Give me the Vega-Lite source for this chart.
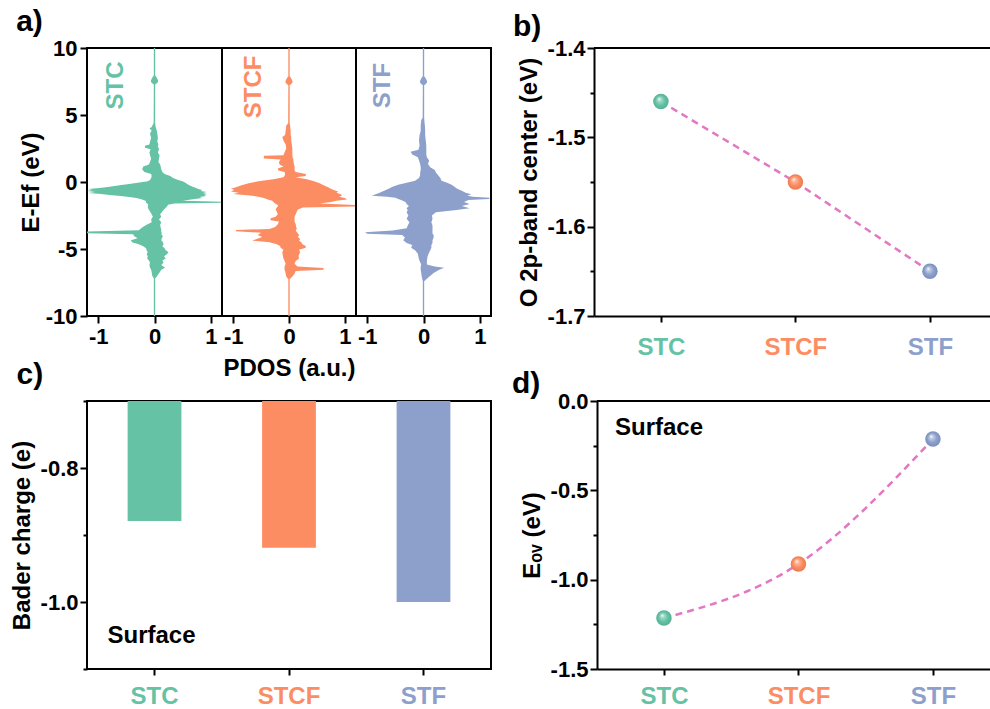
{
  "$schema": "https://vega.github.io/schema/vega-lite/v6.json",
  "background": "white",
  "padding": {"left": 9, "top": 5, "right": 0, "bottom": 0},
  "config": {
    "font": "Liberation Sans",
    "locale": {"number": {"decimal": ".", "thousands": ",", "grouping": [3], "currency": ["$", ""], "minus": "-"}},
    "view": {"stroke": "black", "strokeWidth": 2},
    "axis": {
      "grid": false, "domainColor": "black", "domainWidth": 2, "tickColor": "black", "tickWidth": 2, "tickSize": 7,
      "labelFont": "Liberation Sans", "labelFontWeight": "bold", "labelFontSize": 22, "labelColor": "black", "labelPadding": 3,
      "labelFlush": false, "labelOverlap": false,
      "titleFont": "Liberation Sans", "titleFontWeight": "bold", "titleFontSize": 24, "titleColor": "black"
    },
    "text": {"font": "Liberation Sans", "fontWeight": "bold"}
  },
  "datasets": {
    "pdos": [
      {"s":"STC","E":10,"l":-0.012,"r":0.012},{"s":"STC","E":7.95,"l":-0.012,"r":0.012},{"s":"STC","E":7.85,"l":-0.03,"r":0.03},{"s":"STC","E":7.7,"l":-0.05,"r":0.05},{"s":"STC","E":7.55,"l":-0.065,"r":0.065},{"s":"STC","E":7.45,"l":-0.06,"r":0.06},{"s":"STC","E":7.35,"l":-0.035,"r":0.035},{"s":"STC","E":7.28,"l":-0.012,"r":0.012},
      {"s":"STC","E":4.4,"l":-0.015,"r":0.012},{"s":"STC","E":4.1,"l":-0.05,"r":0.02},{"s":"STC","E":4.0,"l":-0.09,"r":0.03},{"s":"STC","E":3.85,"l":-0.05,"r":0.04},{"s":"STC","E":3.6,"l":-0.08,"r":0.05},{"s":"STC","E":3.3,"l":-0.06,"r":0.06},{"s":"STC","E":3.0,"l":-0.08,"r":0.05},{"s":"STC","E":2.8,"l":-0.09,"r":0.07},{"s":"STC","E":2.7,"l":-0.17,"r":0.06},{"s":"STC","E":2.55,"l":-0.17,"r":0.07},{"s":"STC","E":2.45,"l":-0.07,"r":0.08},{"s":"STC","E":2.2,"l":-0.09,"r":0.06},{"s":"STC","E":2.0,"l":-0.08,"r":0.09},{"s":"STC","E":1.75,"l":-0.06,"r":0.08},{"s":"STC","E":1.5,"l":-0.08,"r":0.07},{"s":"STC","E":1.3,"l":-0.1,"r":0.1},{"s":"STC","E":1.15,"l":-0.2,"r":0.11},{"s":"STC","E":0.95,"l":-0.22,"r":0.12},{"s":"STC","E":0.75,"l":-0.18,"r":0.14},{"s":"STC","E":0.6,"l":-0.06,"r":0.18},{"s":"STC","E":0.45,"l":-0.05,"r":0.28},{"s":"STC","E":0.3,"l":-0.06,"r":0.33},{"s":"STC","E":0.15,"l":-0.08,"r":0.42},{"s":"STC","E":0.05,"l":-0.12,"r":0.5},{"s":"STC","E":-0.05,"l":-0.3,"r":0.55},{"s":"STC","E":-0.15,"l":-0.45,"r":0.58},{"s":"STC","E":-0.25,"l":-0.62,"r":0.62},{"s":"STC","E":-0.35,"l":-0.8,"r":0.68},{"s":"STC","E":-0.45,"l":-0.98,"r":0.74},{"s":"STC","E":-0.52,"l":-1.18,"r":0.78},{"s":"STC","E":-0.6,"l":-1.1,"r":0.85},{"s":"STC","E":-0.68,"l":-1.2,"r":0.82},{"s":"STC","E":-0.75,"l":-1.05,"r":0.93},{"s":"STC","E":-0.82,"l":-1.18,"r":0.86},{"s":"STC","E":-0.9,"l":-0.95,"r":0.93},{"s":"STC","E":-0.97,"l":-0.8,"r":0.88},{"s":"STC","E":-1.05,"l":-0.6,"r":0.92},{"s":"STC","E":-1.12,"l":-0.45,"r":0.8},{"s":"STC","E":-1.2,"l":-0.32,"r":0.85},{"s":"STC","E":-1.3,"l":-0.22,"r":0.65},{"s":"STC","E":-1.4,"l":-0.16,"r":0.5},{"s":"STC","E":-1.47,"l":-0.15,"r":1.2},{"s":"STC","E":-1.55,"l":-0.15,"r":1.2},{"s":"STC","E":-1.6,"l":-0.13,"r":0.35},{"s":"STC","E":-1.7,"l":-0.11,"r":0.24},{"s":"STC","E":-1.85,"l":-0.12,"r":0.22},{"s":"STC","E":-2.0,"l":-0.11,"r":0.18},{"s":"STC","E":-2.2,"l":-0.08,"r":0.14},{"s":"STC","E":-2.4,"l":-0.05,"r":0.1},{"s":"STC","E":-2.6,"l":-0.03,"r":0.12},{"s":"STC","E":-2.8,"l":-0.06,"r":0.08},{"s":"STC","E":-3.0,"l":-0.05,"r":0.12},{"s":"STC","E":-3.2,"l":-0.15,"r":0.1},{"s":"STC","E":-3.4,"l":-0.22,"r":0.11},{"s":"STC","E":-3.6,"l":-0.28,"r":0.12},{"s":"STC","E":-3.7,"l":-1.2,"r":0.12},{"s":"STC","E":-3.82,"l":-1.2,"r":0.13},{"s":"STC","E":-3.9,"l":-0.38,"r":0.12},{"s":"STC","E":-4.05,"l":-0.36,"r":0.15},{"s":"STC","E":-4.2,"l":-0.3,"r":0.13},{"s":"STC","E":-4.35,"l":-0.42,"r":0.12},{"s":"STC","E":-4.5,"l":-0.4,"r":0.15},{"s":"STC","E":-4.65,"l":-0.28,"r":0.16},{"s":"STC","E":-4.8,"l":-0.2,"r":0.14},{"s":"STC","E":-4.95,"l":-0.15,"r":0.18},{"s":"STC","E":-5.1,"l":-0.14,"r":0.2},{"s":"STC","E":-5.25,"l":-0.12,"r":0.25},{"s":"STC","E":-5.4,"l":-0.14,"r":0.22},{"s":"STC","E":-5.55,"l":-0.12,"r":0.17},{"s":"STC","E":-5.7,"l":-0.13,"r":0.2},{"s":"STC","E":-5.85,"l":-0.1,"r":0.14},{"s":"STC","E":-6.0,"l":-0.08,"r":0.16},{"s":"STC","E":-6.2,"l":-0.09,"r":0.12},{"s":"STC","E":-6.4,"l":-0.08,"r":0.19},{"s":"STC","E":-6.55,"l":-0.06,"r":0.12},{"s":"STC","E":-6.75,"l":-0.05,"r":0.09},{"s":"STC","E":-7.0,"l":-0.04,"r":0.05},{"s":"STC","E":-7.2,"l":-0.012,"r":0.012},{"s":"STC","E":-10,"l":-0.012,"r":0.012},

      {"s":"STCF","E":10,"l":-0.012,"r":0.012},{"s":"STCF","E":7.9,"l":-0.012,"r":0.012},{"s":"STCF","E":7.8,"l":-0.03,"r":0.03},{"s":"STCF","E":7.65,"l":-0.05,"r":0.05},{"s":"STCF","E":7.5,"l":-0.065,"r":0.065},{"s":"STCF","E":7.4,"l":-0.06,"r":0.06},{"s":"STCF","E":7.3,"l":-0.035,"r":0.035},{"s":"STCF","E":7.22,"l":-0.012,"r":0.012},
      {"s":"STCF","E":4.4,"l":-0.015,"r":0.012},{"s":"STCF","E":4.2,"l":-0.05,"r":0.02},{"s":"STCF","E":3.8,"l":-0.06,"r":0.03},{"s":"STCF","E":3.5,"l":-0.07,"r":0.03},{"s":"STCF","E":3.35,"l":-0.12,"r":0.04},{"s":"STCF","E":3.1,"l":-0.1,"r":0.04},{"s":"STCF","E":2.8,"l":-0.06,"r":0.05},{"s":"STCF","E":2.5,"l":-0.05,"r":0.06},{"s":"STCF","E":2.2,"l":-0.08,"r":0.06},{"s":"STCF","E":2.0,"l":-0.1,"r":0.06},{"s":"STCF","E":1.95,"l":-0.45,"r":0.06},{"s":"STCF","E":1.75,"l":-0.45,"r":0.07},{"s":"STCF","E":1.68,"l":-0.15,"r":0.08},{"s":"STCF","E":1.5,"l":-0.18,"r":0.08},{"s":"STCF","E":1.3,"l":-0.17,"r":0.09},{"s":"STCF","E":1.15,"l":-0.1,"r":0.1},{"s":"STCF","E":1.0,"l":-0.2,"r":0.1},{"s":"STCF","E":0.85,"l":-0.19,"r":0.1},{"s":"STCF","E":0.75,"l":-0.08,"r":0.12},{"s":"STCF","E":0.6,"l":-0.07,"r":0.3},{"s":"STCF","E":0.45,"l":-0.08,"r":0.3},{"s":"STCF","E":0.35,"l":-0.1,"r":0.12},{"s":"STCF","E":0.2,"l":-0.28,"r":0.32},{"s":"STCF","E":0.05,"l":-0.55,"r":0.45},{"s":"STCF","E":-0.1,"l":-0.72,"r":0.55},{"s":"STCF","E":-0.25,"l":-0.85,"r":0.62},{"s":"STCF","E":-0.4,"l":-0.95,"r":0.7},{"s":"STCF","E":-0.5,"l":-1.04,"r":0.75},{"s":"STCF","E":-0.6,"l":-0.98,"r":0.8},{"s":"STCF","E":-0.7,"l":-1.04,"r":0.88},{"s":"STCF","E":-0.8,"l":-0.9,"r":0.85},{"s":"STCF","E":-0.9,"l":-1.0,"r":0.92},{"s":"STCF","E":-1.0,"l":-0.7,"r":0.95},{"s":"STCF","E":-1.1,"l":-0.55,"r":0.9},{"s":"STCF","E":-1.2,"l":-0.45,"r":1.0},{"s":"STCF","E":-1.3,"l":-0.38,"r":1.04},{"s":"STCF","E":-1.4,"l":-0.3,"r":0.85},{"s":"STCF","E":-1.5,"l":-0.28,"r":0.75},{"s":"STCF","E":-1.6,"l":-0.25,"r":0.55},{"s":"STCF","E":-1.72,"l":-0.2,"r":1.19},{"s":"STCF","E":-1.82,"l":-0.2,"r":1.19},{"s":"STCF","E":-1.9,"l":-0.22,"r":0.25},{"s":"STCF","E":-2.05,"l":-0.24,"r":0.16},{"s":"STCF","E":-2.2,"l":-0.22,"r":0.14},{"s":"STCF","E":-2.4,"l":-0.2,"r":0.12},{"s":"STCF","E":-2.6,"l":-0.24,"r":0.1},{"s":"STCF","E":-2.7,"l":-0.33,"r":0.1},{"s":"STCF","E":-2.85,"l":-0.33,"r":0.1},{"s":"STCF","E":-2.95,"l":-0.18,"r":0.1},{"s":"STCF","E":-3.15,"l":-0.2,"r":0.12},{"s":"STCF","E":-3.35,"l":-0.25,"r":0.13},{"s":"STCF","E":-3.5,"l":-0.35,"r":0.14},{"s":"STCF","E":-3.58,"l":-0.95,"r":0.12},{"s":"STCF","E":-3.68,"l":-0.95,"r":0.13},{"s":"STCF","E":-3.78,"l":-0.5,"r":0.15},{"s":"STCF","E":-3.95,"l":-0.56,"r":0.18},{"s":"STCF","E":-4.1,"l":-0.48,"r":0.16},{"s":"STCF","E":-4.25,"l":-0.58,"r":0.2},{"s":"STCF","E":-4.38,"l":-0.66,"r":0.18},{"s":"STCF","E":-4.5,"l":-0.35,"r":0.22},{"s":"STCF","E":-4.65,"l":-0.22,"r":0.24},{"s":"STCF","E":-4.78,"l":-0.16,"r":0.3},{"s":"STCF","E":-4.9,"l":-0.15,"r":0.3},{"s":"STCF","E":-5.05,"l":-0.1,"r":0.18},{"s":"STCF","E":-5.25,"l":-0.12,"r":0.2},{"s":"STCF","E":-5.5,"l":-0.11,"r":0.17},{"s":"STCF","E":-5.7,"l":-0.1,"r":0.18},{"s":"STCF","E":-5.9,"l":-0.08,"r":0.12},{"s":"STCF","E":-6.1,"l":-0.06,"r":0.1},{"s":"STCF","E":-6.3,"l":-0.08,"r":0.15},{"s":"STCF","E":-6.42,"l":-0.08,"r":0.62},{"s":"STCF","E":-6.55,"l":-0.08,"r":0.62},{"s":"STCF","E":-6.65,"l":-0.07,"r":0.12},{"s":"STCF","E":-6.85,"l":-0.06,"r":0.1},{"s":"STCF","E":-7.05,"l":-0.05,"r":0.06},{"s":"STCF","E":-7.25,"l":-0.012,"r":0.012},{"s":"STCF","E":-10,"l":-0.012,"r":0.012},

      {"s":"STF","E":10,"l":-0.012,"r":0.012},{"s":"STF","E":7.9,"l":-0.012,"r":0.012},{"s":"STF","E":7.8,"l":-0.03,"r":0.03},{"s":"STF","E":7.65,"l":-0.05,"r":0.05},{"s":"STF","E":7.5,"l":-0.065,"r":0.065},{"s":"STF","E":7.4,"l":-0.06,"r":0.06},{"s":"STF","E":7.3,"l":-0.035,"r":0.035},{"s":"STF","E":7.22,"l":-0.012,"r":0.012},
      {"s":"STF","E":4.8,"l":-0.015,"r":0.012},{"s":"STF","E":4.6,"l":-0.04,"r":0.015},{"s":"STF","E":4.2,"l":-0.05,"r":0.025},{"s":"STF","E":3.8,"l":-0.05,"r":0.03},{"s":"STF","E":3.5,"l":-0.07,"r":0.03},{"s":"STF","E":3.1,"l":-0.08,"r":0.04},{"s":"STF","E":2.7,"l":-0.07,"r":0.05},{"s":"STF","E":2.4,"l":-0.09,"r":0.05},{"s":"STF","E":2.25,"l":-0.23,"r":0.05},{"s":"STF","E":2.05,"l":-0.2,"r":0.05},{"s":"STF","E":1.85,"l":-0.1,"r":0.06},{"s":"STF","E":1.6,"l":-0.08,"r":0.1},{"s":"STF","E":1.35,"l":-0.06,"r":0.08},{"s":"STF","E":1.1,"l":-0.05,"r":0.12},{"s":"STF","E":0.9,"l":-0.05,"r":0.2},{"s":"STF","E":0.7,"l":-0.06,"r":0.22},{"s":"STF","E":0.5,"l":-0.06,"r":0.26},{"s":"STF","E":0.3,"l":-0.08,"r":0.3},{"s":"STF","E":0.1,"l":-0.15,"r":0.32},{"s":"STF","E":-0.05,"l":-0.3,"r":0.42},{"s":"STF","E":-0.2,"l":-0.45,"r":0.5},{"s":"STF","E":-0.35,"l":-0.55,"r":0.55},{"s":"STF","E":-0.5,"l":-0.62,"r":0.6},{"s":"STF","E":-0.65,"l":-0.7,"r":0.68},{"s":"STF","E":-0.8,"l":-0.78,"r":0.75},{"s":"STF","E":-0.92,"l":-0.85,"r":0.85},{"s":"STF","E":-1.02,"l":-0.92,"r":0.78},{"s":"STF","E":-1.1,"l":-0.65,"r":0.88},{"s":"STF","E":-1.18,"l":-0.5,"r":1.17},{"s":"STF","E":-1.27,"l":-0.45,"r":1.17},{"s":"STF","E":-1.35,"l":-0.4,"r":0.8},{"s":"STF","E":-1.5,"l":-0.32,"r":0.72},{"s":"STF","E":-1.65,"l":-0.3,"r":0.82},{"s":"STF","E":-1.8,"l":-0.26,"r":0.68},{"s":"STF","E":-1.95,"l":-0.3,"r":0.82},{"s":"STF","E":-2.1,"l":-0.28,"r":0.55},{"s":"STF","E":-2.25,"l":-0.3,"r":0.22},{"s":"STF","E":-2.5,"l":-0.27,"r":0.15},{"s":"STF","E":-2.75,"l":-0.3,"r":0.16},{"s":"STF","E":-3.0,"l":-0.25,"r":0.14},{"s":"STF","E":-3.25,"l":-0.28,"r":0.16},{"s":"STF","E":-3.45,"l":-0.3,"r":0.16},{"s":"STF","E":-3.62,"l":-0.55,"r":0.16},{"s":"STF","E":-3.75,"l":-1.04,"r":0.16},{"s":"STF","E":-3.86,"l":-1.0,"r":0.16},{"s":"STF","E":-3.95,"l":-0.38,"r":0.18},{"s":"STF","E":-4.15,"l":-0.33,"r":0.18},{"s":"STF","E":-4.35,"l":-0.36,"r":0.16},{"s":"STF","E":-4.55,"l":-0.3,"r":0.16},{"s":"STF","E":-4.7,"l":-0.2,"r":0.14},{"s":"STF","E":-4.9,"l":-0.22,"r":0.14},{"s":"STF","E":-5.1,"l":-0.15,"r":0.12},{"s":"STF","E":-5.35,"l":-0.1,"r":0.09},{"s":"STF","E":-5.6,"l":-0.09,"r":0.07},{"s":"STF","E":-5.9,"l":-0.07,"r":0.06},{"s":"STF","E":-6.15,"l":-0.04,"r":0.06},{"s":"STF","E":-6.3,"l":-0.05,"r":0.2},{"s":"STF","E":-6.4,"l":-0.05,"r":0.37},{"s":"STF","E":-6.55,"l":-0.05,"r":0.28},{"s":"STF","E":-6.8,"l":-0.04,"r":0.18},{"s":"STF","E":-7.1,"l":-0.03,"r":0.09},{"s":"STF","E":-7.4,"l":-0.012,"r":0.012},{"s":"STF","E":-10,"l":-0.012,"r":0.012}
    ],
    "oband": [{"m":"STC","v":-1.46},{"m":"STCF","v":-1.55},{"m":"STF","v":-1.65}],
    "bader": [{"m":"STC","v":-0.879},{"m":"STCF","v":-0.919},{"m":"STF","v":-1.0}],
    "eov": [{"m":"STC","v":-1.215},{"m":"STCF","v":-0.912},{"m":"STF","v":-0.213}]
  },
  "spacing": -22,
  "vconcat": [
    {
      "spacing": 20,
      "hconcat": [
        {
          "bounds": "flush",
          "spacing": 0,
          "hconcat": [
            {
              "width": 135, "height": 268,
              "layer": [
                {
                  "data": {"name": "pdos"},
                  "transform": [{"filter": "datum.s === 'STC'"}],
                  "mark": {"type": "area", "orient": "horizontal", "color": "#66c2a5", "opacity": 1},
                  "encoding": {
                    "y": {"field": "E", "type": "quantitative", "scale": {"domain": [-10, 10], "nice": false},
                      "axis": {"title": "E-Ef (eV)", "domain": false, "titlePadding": 2, "format": "d",
                        "values": [-10, -7.5, -5, -2.5, 0, 2.5, 5, 7.5, 10],
                        "labelExpr": "datum.value % 5 === 0 ? datum.label : ''",
                        "tickSize": {"condition": {"test": "datum.value % 5 !== 0", "value": 4}, "value": 7}}},
                    "x": {"field": "r", "type": "quantitative", "scale": {"domain": [-1.2, 1.2], "nice": false},
                      "axis": {"title": null, "domain": false, "values": [-1, 0, 1], "format": "d"}},
                    "x2": {"field": "l"}
                  }
                },
                {
                  "data": {"values": [{"t": "STC"}]},
                  "mark": {"type": "text", "angle": 270, "align": "center", "baseline": "middle", "fontSize": 24, "color": "#66c2a5"},
                  "encoding": {"x": {"datum": -0.68}, "y": {"datum": 7.2}, "text": {"field": "t"}}
                },
                {
                  "data": {"values": [{"t": "a)"}]},
                  "mark": {"type": "text", "align": "left", "baseline": "alphabetic", "fontSize": 30, "color": "black"},
                  "encoding": {"x": {"datum": -2.46}, "y": {"datum": 11.3}, "text": {"field": "t"}}
                }
              ]
            },
            {
              "width": 134, "height": 268,
              "layer": [
                {
                  "data": {"name": "pdos"},
                  "transform": [{"filter": "datum.s === 'STCF'"}],
                  "mark": {"type": "area", "orient": "horizontal", "color": "#fc8d62", "opacity": 1},
                  "encoding": {
                    "y": {"field": "E", "type": "quantitative", "scale": {"domain": [-10, 10], "nice": false}, "axis": null},
                    "x": {"field": "r", "type": "quantitative", "scale": {"domain": [-1.2, 1.2], "nice": false},
                      "axis": {"title": "PDOS (a.u.)", "domain": false, "values": [-1, 0, 1], "format": "d", "titlePadding": 9}},
                    "x2": {"field": "l"}
                  }
                },
                {
                  "data": {"values": [{"t": "STCF"}]},
                  "mark": {"type": "text", "angle": 270, "align": "center", "baseline": "middle", "fontSize": 24, "color": "#fc8d62"},
                  "encoding": {"x": {"datum": -0.63}, "y": {"datum": 7.1}, "text": {"field": "t"}}
                }
              ]
            },
            {
              "width": 135, "height": 268,
              "layer": [
                {
                  "data": {"name": "pdos"},
                  "transform": [{"filter": "datum.s === 'STF'"}],
                  "mark": {"type": "area", "orient": "horizontal", "color": "#8da0cb", "opacity": 1},
                  "encoding": {
                    "y": {"field": "E", "type": "quantitative", "scale": {"domain": [-10, 10], "nice": false}, "axis": null},
                    "x": {"field": "r", "type": "quantitative", "scale": {"domain": [-1.2, 1.2], "nice": false},
                      "axis": {"title": null, "domain": false, "values": [-1, 0, 1], "format": "d"}},
                    "x2": {"field": "l"}
                  }
                },
                {
                  "data": {"values": [{"t": "STF"}]},
                  "mark": {"type": "text", "angle": 270, "align": "center", "baseline": "middle", "fontSize": 24, "color": "#8da0cb"},
                  "encoding": {"x": {"datum": -0.72}, "y": {"datum": 7.2}, "text": {"field": "t"}}
                }
              ]
            }
          ]
        },
        {
          "width": 396, "height": 268,
          "view": {"stroke": null},
          "layer": [
            {"data": {"name": "oband"},
             "mark": {"type": "line", "color": "#e377c2", "strokeWidth": 2.5, "strokeDash": [7, 5]},
             "encoding": {
               "x": {"field": "m", "type": "nominal", "sort": null,
                 "scale": {"type": "point", "domain": ["STC", "STCF", "STF"], "padding": 0.472, "align": 0.527},
                 "axis": {"title": null, "labelAngle": 0, "labelFontSize": 24, "labelPadding": 13, "tickSize": 6,
                   "labelColor": {"condition": [{"test": "datum.value === 'STC'", "value": "#66c2a5"}, {"test": "datum.value === 'STCF'", "value": "#fc8d62"}], "value": "#8da0cb"}}},
               "y": {"field": "v", "type": "quantitative", "scale": {"domain": [-1.7, -1.4], "nice": false, "zero": false},
                 "axis": {"title": "O 2p-band center (eV)", "titlePadding": 6, "labelPadding": 2,
                   "values": [-1.7, -1.65, -1.6, -1.55, -1.5, -1.45, -1.4],
                   "labelExpr": "abs(round(datum.value * 100)) % 10 === 5 ? '' : format(datum.value, '.1f')",
                   "tickSize": {"condition": {"test": "abs(round(datum.value * 100)) % 10 === 5", "value": 4}, "value": 7}}}
             }},
            {"data": {"values": [{"t": "top"}]},
             "mark": {"type": "rule", "color": "black", "strokeWidth": 2},
             "encoding": {"y": {"datum": -1.4}}},
            {"data": {"name": "oband"}, "transform": [{"filter": "datum.m === 'STC'"}],
             "mark": {"type": "circle", "size": 240, "opacity": 1, "fill": {"gradient": "radial", "x1": 0.38, "y1": 0.32, "r1": 0, "x2": 0.5, "y2": 0.5, "r2": 0.5, "stops": [{"offset": 0, "color": "#ffffff"}, {"offset": 0.22, "color": "#a6dcc8"}, {"offset": 0.6, "color": "#66c2a5"}, {"offset": 1, "color": "#55b092"}]}},
             "encoding": {"x": {"field": "m", "type": "nominal"}, "y": {"field": "v", "type": "quantitative"}}},
            {"data": {"name": "oband"}, "transform": [{"filter": "datum.m === 'STCF'"}],
             "mark": {"type": "circle", "size": 240, "opacity": 1, "fill": {"gradient": "radial", "x1": 0.38, "y1": 0.32, "r1": 0, "x2": 0.5, "y2": 0.5, "r2": 0.5, "stops": [{"offset": 0, "color": "#ffffff"}, {"offset": 0.22, "color": "#fdbb9f"}, {"offset": 0.6, "color": "#fc8d62"}, {"offset": 1, "color": "#ea7a50"}]}},
             "encoding": {"x": {"field": "m", "type": "nominal"}, "y": {"field": "v", "type": "quantitative"}}},
            {"data": {"name": "oband"}, "transform": [{"filter": "datum.m === 'STF'"}],
             "mark": {"type": "circle", "size": 240, "opacity": 1, "fill": {"gradient": "radial", "x1": 0.38, "y1": 0.32, "r1": 0, "x2": 0.5, "y2": 0.5, "r2": 0.5, "stops": [{"offset": 0, "color": "#ffffff"}, {"offset": 0.22, "color": "#c2cce4"}, {"offset": 0.6, "color": "#8da0cb"}, {"offset": 1, "color": "#7b8fbc"}]}},
             "encoding": {"x": {"field": "m", "type": "nominal"}, "y": {"field": "v", "type": "quantitative"}}},
            {"data": {"values": [{"t": "b)", "m": "STC", "v": -1.3866}]},
             "mark": {"type": "text", "align": "left", "baseline": "alphabetic", "fontSize": 30, "color": "black", "dx": -148},
             "encoding": {"x": {"field": "m", "type": "nominal"}, "y": {"field": "v", "type": "quantitative"}, "text": {"field": "t"}}}
          ]
        }
      ]
    },
    {
      "spacing": 19,
      "hconcat": [
        {
          "width": 404, "height": 268,
          "layer": [
            {"data": {"name": "bader"},
             "mark": {"type": "bar"},
             "encoding": {
               "x": {"field": "m", "type": "nominal", "sort": null,
                 "scale": {"type": "band", "domain": ["STC", "STCF", "STF"], "paddingInner": 0.6, "paddingOuter": 0.302},
                 "axis": {"title": null, "labelAngle": 0, "labelFontSize": 24, "labelPadding": 9, "tickSize": 6, "domain": false,
                   "labelColor": {"condition": [{"test": "datum.value === 'STC'", "value": "#66c2a5"}, {"test": "datum.value === 'STCF'", "value": "#fc8d62"}], "value": "#8da0cb"}}},
               "y": {"field": "v", "type": "quantitative", "scale": {"domain": [-1.1, -0.7], "nice": false, "zero": false},
                 "axis": {"title": "Bader charge (e)", "titlePadding": 6, "labelPadding": 2, "domain": false,
                   "values": [-1.1, -1.0, -0.9, -0.8, -0.7],
                   "labelExpr": "abs(round(datum.value * 10)) % 2 === 1 ? '' : format(datum.value, '.1f')",
                   "tickSize": {"condition": {"test": "abs(round(datum.value * 10)) % 2 === 1", "value": 4}, "value": 7}}},
               "y2": {"datum": -0.7},
               "color": {"field": "m", "type": "nominal", "scale": {"domain": ["STC", "STCF", "STF"], "range": ["#66c2a5", "#fc8d62", "#8da0cb"]}, "legend": null}
             }},
            {"data": {"values": [{"t": "Surface", "m": "STC", "v": -1.061}]},
             "mark": {"type": "text", "align": "left", "baseline": "alphabetic", "fontSize": 24, "color": "black", "dx": -47},
             "encoding": {"x": {"field": "m", "type": "nominal"}, "y": {"field": "v", "type": "quantitative"}, "text": {"field": "t"}}},
            {"data": {"values": [{"t": "c)", "m": "STC", "v": -0.675}]},
             "mark": {"type": "text", "align": "left", "baseline": "alphabetic", "fontSize": 30, "color": "black", "dx": -138},
             "encoding": {"x": {"field": "m", "type": "nominal"}, "y": {"field": "v", "type": "quantitative"}, "text": {"field": "t"}}}
          ]
        },
        {
          "width": 393, "height": 268,
          "view": {"stroke": null},
          "layer": [
            {"data": {"name": "eov"},
             "mark": {"type": "line", "color": "#e377c2", "strokeWidth": 2.5, "strokeDash": [7, 5], "interpolate": "monotone"},
             "encoding": {
               "x": {"field": "m", "type": "nominal", "sort": null,
                 "scale": {"type": "point", "domain": ["STC", "STCF", "STF"], "padding": 0.461, "align": 0.54},
                 "axis": {"title": null, "labelAngle": 0, "labelFontSize": 24, "labelPadding": 9, "tickSize": 6,
                   "labelColor": {"condition": [{"test": "datum.value === 'STC'", "value": "#66c2a5"}, {"test": "datum.value === 'STCF'", "value": "#fc8d62"}], "value": "#8da0cb"}}},
               "y": {"field": "v", "type": "quantitative", "scale": {"domain": [-1.5, 0], "nice": false, "zero": false},
                 "axis": {"title": "Eₒᵥ (eV)", "titlePadding": 6, "labelPadding": 2,
                   "values": [-1.5, -1.25, -1, -0.75, -0.5, -0.25, 0],
                   "labelExpr": "abs(round(datum.value * 100)) % 50 === 25 ? '' : format(datum.value, '.1f')",
                   "tickSize": {"condition": {"test": "abs(round(datum.value * 100)) % 50 === 25", "value": 4}, "value": 7}}}
             }},
            {"data": {"values": [{"t": "top"}]},
             "mark": {"type": "rule", "color": "black", "strokeWidth": 2},
             "encoding": {"y": {"datum": 0}}},
            {"data": {"name": "eov"}, "transform": [{"filter": "datum.m === 'STC'"}],
             "mark": {"type": "circle", "size": 240, "opacity": 1, "fill": {"gradient": "radial", "x1": 0.38, "y1": 0.32, "r1": 0, "x2": 0.5, "y2": 0.5, "r2": 0.5, "stops": [{"offset": 0, "color": "#ffffff"}, {"offset": 0.22, "color": "#a6dcc8"}, {"offset": 0.6, "color": "#66c2a5"}, {"offset": 1, "color": "#55b092"}]}},
             "encoding": {"x": {"field": "m", "type": "nominal"}, "y": {"field": "v", "type": "quantitative"}}},
            {"data": {"name": "eov"}, "transform": [{"filter": "datum.m === 'STCF'"}],
             "mark": {"type": "circle", "size": 240, "opacity": 1, "fill": {"gradient": "radial", "x1": 0.38, "y1": 0.32, "r1": 0, "x2": 0.5, "y2": 0.5, "r2": 0.5, "stops": [{"offset": 0, "color": "#ffffff"}, {"offset": 0.22, "color": "#fdbb9f"}, {"offset": 0.6, "color": "#fc8d62"}, {"offset": 1, "color": "#ea7a50"}]}},
             "encoding": {"x": {"field": "m", "type": "nominal"}, "y": {"field": "v", "type": "quantitative"}}},
            {"data": {"name": "eov"}, "transform": [{"filter": "datum.m === 'STF'"}],
             "mark": {"type": "circle", "size": 240, "opacity": 1, "fill": {"gradient": "radial", "x1": 0.38, "y1": 0.32, "r1": 0, "x2": 0.5, "y2": 0.5, "r2": 0.5, "stops": [{"offset": 0, "color": "#ffffff"}, {"offset": 0.22, "color": "#c2cce4"}, {"offset": 0.6, "color": "#8da0cb"}, {"offset": 1, "color": "#7b8fbc"}]}},
             "encoding": {"x": {"field": "m", "type": "nominal"}, "y": {"field": "v", "type": "quantitative"}}},
            {"data": {"values": [{"t": "Surface", "m": "STC", "v": -0.19}]},
             "mark": {"type": "text", "align": "left", "baseline": "alphabetic", "fontSize": 24, "color": "black", "dx": -49},
             "encoding": {"x": {"field": "m", "type": "nominal"}, "y": {"field": "v", "type": "quantitative"}, "text": {"field": "t"}}},
            {"data": {"values": [{"t": "d)", "m": "STC", "v": 0.0448}]},
             "mark": {"type": "text", "align": "left", "baseline": "alphabetic", "fontSize": 30, "color": "black", "dx": -152},
             "encoding": {"x": {"field": "m", "type": "nominal"}, "y": {"field": "v", "type": "quantitative"}, "text": {"field": "t"}}}
          ]
        }
      ]
    }
  ]
}
